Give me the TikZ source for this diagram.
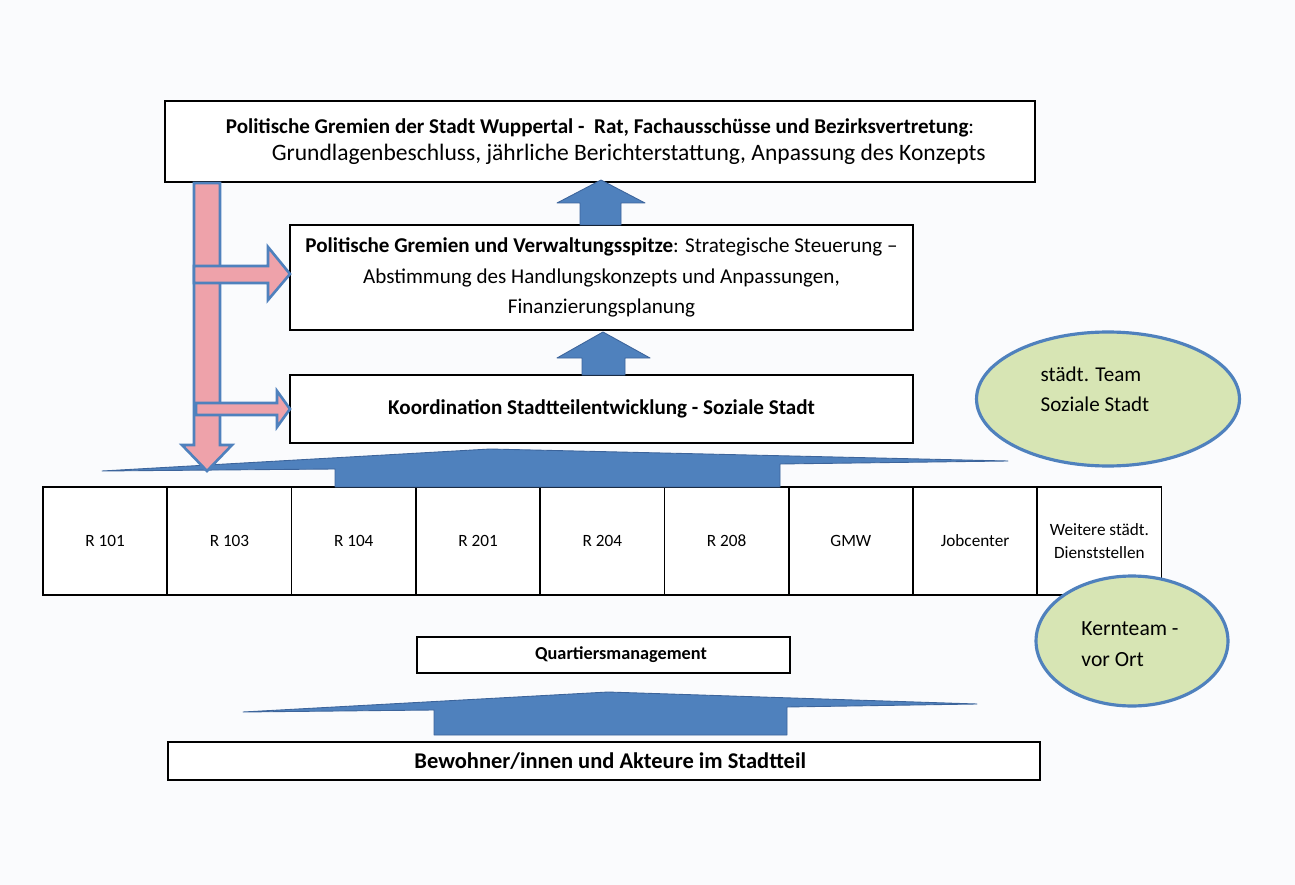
\documentclass[tikz,border=0pt]{standalone}
\usepackage{fontspec}
\setmainfont{Carlito}
\usetikzlibrary{positioning}
\usetikzlibrary{shapes}

\definecolor{blockblue}{RGB}{79,129,189}
\definecolor{blockedge}{RGB}{60,100,155}
\definecolor{pinkfill}{RGB}{238,162,170}
\definecolor{ovalfill}{RGB}{215,229,180}
\definecolor{paper}{RGB}{250,251,253}

\tikzset{
  gremium/.style={draw=black, line width=1.6pt, fill=white, align=center, inner sep=0pt,
    font=\fontsize{12}{15}\selectfont},
  amtcell/.style={draw=black, line width=1pt, fill=white, align=center, inner sep=0pt, outer sep=0pt,
    minimum width=2.486cm, minimum height=2.16cm, font=\fontsize{9.8}{13.5}\selectfont},
  teamoval/.style={ellipse, draw=blockblue, line width=1.8pt, fill=ovalfill, inner sep=0pt},
  ovaltext/.style={align=left, inner sep=0pt, font=\fontsize{12}{17}\selectfont},
  bluearrow/.style={fill=blockblue, draw=blockedge, line width=0.5pt, line join=round},
  pinkarrow/.style={fill=pinkfill, draw=blockblue, line width=1.5pt, line join=miter}
}

\begin{document}
\begin{tikzpicture}[x=0.02cm, y=-0.02cm]
  \fill[paper] (0,0) rectangle (1295,885);
  \useasboundingbox (0,0) rectangle (1295,885);

  % Gremien
  \node[gremium, minimum width=17.4cm, minimum height=1.62cm] (rat) at (600,141.5)
    {\textbf{Politische Gremien der Stadt Wuppertal -\ \ Rat, Fachausschüsse und Bezirksvertretung}:\\
     \hspace*{1.15cm}{\fontsize{13.4}{16}\selectfont Grundlagenbeschluss, jährliche Berichterstattung, Anpassung des Konzepts}};
  \node[gremium, minimum width=12.46cm, minimum height=2.1cm,
    font=\fontsize{12}{17.5}\selectfont] (spitze) at (601.5,277.5)
    {\textbf{Politische Gremien und Verwaltungsspitze}: Strategische Steuerung --\\
     Abstimmung des Handlungskonzepts und Anpassungen,\\
     Finanzierungsplanung};
  \node[gremium, minimum width=12.46cm, minimum height=1.36cm] (koord) at (601.5,409)
    {\textbf{Koordination Stadtteilentwicklung - Soziale Stadt}};

  % Dienststellen
  \node[amtcell] (amt1) at (105.2,541) {R 101};
  \foreach \lbl [count=\i from 2, remember=\i as \prev (initially 1)] in
    {R 103, R 104, R 201, R 204, R 208, GMW, Jobcenter, {Weitere städt.\\Dienststellen}}
    \node[amtcell, right=0pt of amt\prev] (amt\i) {\lbl};

  % vor Ort
  \node[gremium, minimum width=7.46cm, minimum height=0.72cm,
    font=\fontsize{10.4}{13}\selectfont] (quartier) at (603.5,655)
    {\hspace*{0.7cm}\textbf{Quartiersmanagement}};
  \node[gremium, minimum width=17.44cm, minimum height=0.76cm,
    font=\fontsize{12.8}{14}\selectfont] (bewohner) at (604,761)
    {\hspace*{0.25cm}\textbf{Bewohner/innen und Akteure im Stadtteil}};

  % Teams
  \node[teamoval, minimum width=5.26cm, minimum height=2.68cm] (team) at (1108,399) {};
  \node[ovaltext] (teamtext) at (1095,389) {städt. Team\\Soziale Stadt};
  \node[teamoval, minimum width=3.84cm, minimum height=2.6cm] (kern) at (1132,641) {};
  \node[ovaltext, font=\fontsize{12.3}{18}\selectfont] (kerntext) at (1130,644) {Kernteam -\\vor Ort};

  % blaue Pfeile nach oben
  \draw[bluearrow] (580,225) -- (580,203) -- (557,203) -- (601,180) -- (645,203) -- (621,203) -- (621,225) -- cycle;
  \draw[bluearrow] (582,375) -- (582,358) -- (557,358) -- (603,332) -- (650,358) -- (625,358) -- (625,375) -- cycle;
  \draw[bluearrow] (102,471) -- (490,449) -- (1008,461) -- (780,464) -- (780,487)
    -- (335,487) -- (335,469) -- cycle;
  \draw[bluearrow] (243,712) -- (608,692) -- (977,704) -- (787,707) -- (787,735)
    -- (434,735) -- (434,710) -- cycle;

  % rosa Pfeile
  \draw[pinkarrow] (194,183) -- (194,445) -- (182,445) -- (207,471) -- (232,445) -- (220,445) -- (220,183) -- cycle;
  \draw[pinkarrow] (194,266) -- (268,266) -- (268,247) -- (290,274) -- (268,300) -- (268,283) -- (194,283) -- cycle;
  \draw[pinkarrow] (196,403) -- (277,403) -- (277,391) -- (290,409) -- (277,427) -- (277,415) -- (196,415) -- cycle;
\end{tikzpicture}
\end{document}
